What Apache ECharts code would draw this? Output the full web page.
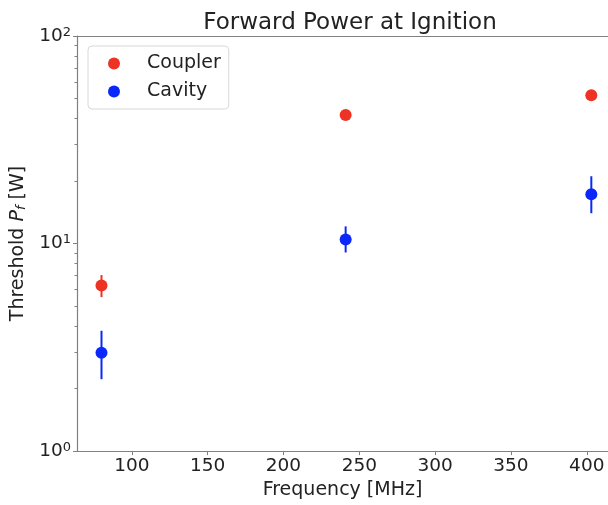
<!DOCTYPE html>
<html>
<head>
<meta charset="utf-8">
<script src="https://cdn.jsdelivr.net/npm/echarts@6/dist/echarts.min.js"></script>
<style>
  html, body { margin: 0; padding: 0; background: #fff; }
  #main { width: 608px; height: 505px; }
</style>
</head>
<body>
<div id="main"></div>
<script>
// frequencies (MHz)
var freq = [80, 241, 403];
// threshold forward power (W)
var coupler = [6.28, 41.6, 51.8];
var couplerLow = [5.52, 39.6, 49.6];
var couplerHigh = [7.05, 43.6, 54.0];
var cavity = [2.98, 10.45, 17.3];
var cavityLow = [2.22, 9.06, 14.0];
var cavityHigh = [3.80, 12.1, 21.1];
// tick labels
var xTicks = [100, 150, 200, 250, 300, 350, 400];
var yMajor = [1, 10, 100];
var yMinor = [2, 3, 4, 5, 6, 7, 8, 9, 20, 30, 40, 50, 60, 70, 80, 90];

var red = '#ee3224';
var blue = '#0a28fa';
var axisColor = '#808080';
var font = 'DejaVu Sans';

var chart = echarts.init(document.getElementById('main'), null, { renderer: 'canvas' });

function pts(ys) {
  return freq.map(function (f, i) { return [f, ys[i]]; });
}
function bars(lo, hi) {
  return freq.map(function (f, i) { return [f, lo[i], hi[i]]; });
}
// vertical error bar drawn through the axis scales
function errorBar(color) {
  return function (params, api) {
    var x = api.value(0);
    var a = api.coord([x, api.value(1)]);
    var b = api.coord([x, api.value(2)]);
    return {
      type: 'line',
      shape: { x1: a[0], y1: a[1], x2: b[0], y2: b[1] },
      style: { stroke: color, lineWidth: 2 }
    };
  };
}

var option = {
  animation: false,
  textStyle: { fontFamily: font },
  title: {
    text: 'Forward Power at Ignition',
    left: 345,
    textAlign: 'center',
    top: 7,
    textStyle: { fontFamily: font, fontSize: 23, fontWeight: 'normal', color: '#222' }
  },
  grid: { left: 77, right: 0, top: 36, bottom: 51, containLabel: false },
  legend: {
    data: ['Coupler', 'Cavity'],
    left: 88,
    top: 46,
    orient: 'vertical',
    icon: 'circle',
    itemWidth: 12,
    itemHeight: 12,
    itemGap: 9,
    padding: [8, 8, 8, 20],
    borderColor: '#d8d8d8',
    borderWidth: 1,
    borderRadius: 4,
    backgroundColor: '#fff',
    textStyle: { fontFamily: font, fontSize: 19, color: '#222', padding: [0, 0, 0, 22] }
  },
  xAxis: [{
    type: 'value',
    min: 63.85,
    max: 414,
    name: 'Frequency [MHz]',
    nameLocation: 'middle',
    nameGap: 29,
    nameTextStyle: { fontFamily: font, fontSize: 19, color: '#222' },
    splitLine: { show: false },
    axisLine: { show: true, lineStyle: { color: axisColor, width: 1.2 } },
    axisTick: { show: true, length: 4, customValues: xTicks, lineStyle: { color: axisColor } },
    axisLabel: { customValues: xTicks, fontFamily: font, fontSize: 18.5, color: '#222', margin: 6 }
  }, {
    // top spine
    type: 'value',
    min: 63.85,
    max: 414,
    position: 'top',
    splitLine: { show: false },
    axisLine: { show: true, lineStyle: { color: axisColor, width: 1.2 } },
    axisTick: { show: false },
    axisLabel: { show: false }
  }],
  yAxis: [{
    type: 'log',
    logBase: 10,
    min: 1,
    max: 100,
    name: 'Threshold {i|P}{sub|f} [W]',
    nameLocation: 'middle',
    nameGap: 46,
    nameTextStyle: {
      fontFamily: font, fontSize: 19, color: '#222',
      rich: {
        i: { fontFamily: font, fontSize: 19, fontStyle: 'italic', color: '#222' },
        sub: { fontFamily: font, fontSize: 13, fontStyle: 'italic', color: '#222', verticalAlign: 'bottom', padding: [7, 0, 0, 0] }
      }
    },
    splitLine: { show: false },
    axisLine: { show: true, lineStyle: { color: axisColor, width: 1.2 } },
    axisTick: { show: true, length: 4, customValues: yMajor, lineStyle: { color: axisColor } },
    axisLabel: {
      customValues: yMajor,
      margin: 6,
      fontFamily: font,
      fontSize: 18.5,
      color: '#222',
      formatter: function (v) {
        return '10{sup|' + Math.round(Math.log10(v)) + '}';
      },
      rich: {
        sup: { fontFamily: font, fontSize: 13, color: '#222', verticalAlign: 'top', padding: [0, 0, 7, 0] }
      }
    }
  }, {
    // minor ticks
    type: 'log',
    logBase: 10,
    min: 1,
    max: 100,
    position: 'left',
    splitLine: { show: false },
    axisLine: { show: false },
    axisLabel: { show: false },
    axisTick: { show: true, length: 2.5, customValues: yMinor, lineStyle: { color: axisColor } }
  }],
  series: [
    {
      name: 'Coupler err',
      type: 'custom',
      renderItem: errorBar(red),
      data: bars(couplerLow, couplerHigh),
      encode: { x: 0, y: [1, 2] },
      z: 1
    },
    {
      name: 'Cavity err',
      type: 'custom',
      renderItem: errorBar(blue),
      data: bars(cavityLow, cavityHigh),
      encode: { x: 0, y: [1, 2] },
      z: 1
    },
    {
      name: 'Coupler',
      type: 'scatter',
      symbol: 'circle',
      symbolSize: 12,
      itemStyle: { color: red, opacity: 1 },
      data: pts(coupler),
      z: 3
    },
    {
      name: 'Cavity',
      type: 'scatter',
      symbol: 'circle',
      symbolSize: 12,
      itemStyle: { color: blue, opacity: 1 },
      data: pts(cavity),
      z: 3
    }
  ]
};

chart.setOption(option);
</script>
</body>
</html>
